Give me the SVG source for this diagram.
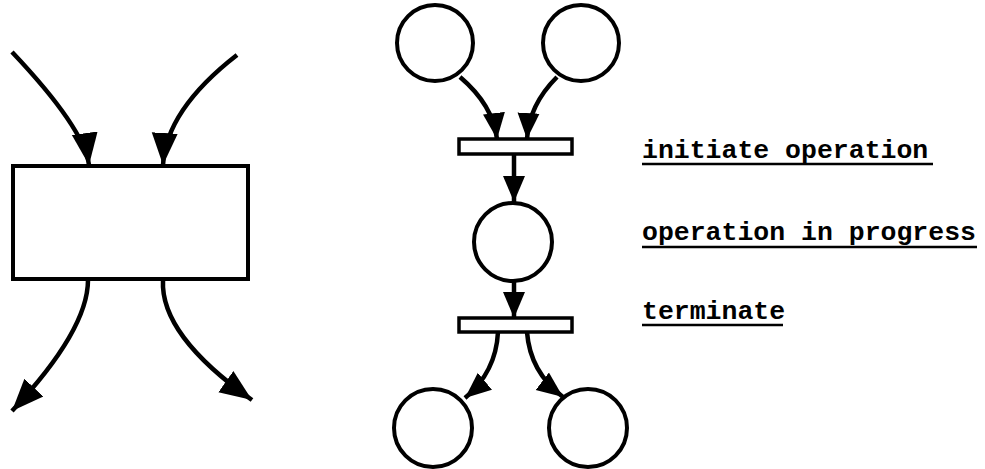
<svg xmlns="http://www.w3.org/2000/svg" width="985" height="469" viewBox="0 0 985 469">
<defs>
<style>
.shape{fill:#fff;stroke:#000;stroke-width:4}
.bar{fill:#fff;stroke:#000;stroke-width:3.5}
.edge{fill:none;stroke:#000;stroke-width:4.5}
.lbl{font-family:"Liberation Mono","Courier New",monospace;font-size:26.5px;font-weight:bold;fill:#000}
.ul{stroke:#000;stroke-width:2.5}
</style>
<marker id="ah" markerUnits="userSpaceOnUse" markerWidth="34" markerHeight="28" refX="32" refY="13" orient="auto" viewBox="0 0 34 26">
<path d="M0,0 L32,13 L0,26 Z" fill="#000"/>
</marker>
<marker id="ahs" markerUnits="userSpaceOnUse" markerWidth="28" markerHeight="24" refX="26" refY="11" orient="auto" viewBox="0 0 28 22">
<path d="M0,0 L26,11 L0,22 Z" fill="#000"/>
</marker>
</defs>
<rect width="985" height="469" fill="#fff"/>
<g id="box"><rect class="shape" x="13" y="166" width="235" height="113"/></g>
<g id="p1"><circle class="shape" cx="435" cy="43" r="38"/></g>
<g id="p2"><circle class="shape" cx="581" cy="43" r="38"/></g>
<g id="t1"><rect class="bar" x="459" y="139" width="113" height="15"/></g>
<g id="p3"><circle class="shape" cx="513" cy="242" r="39"/></g>
<g id="t2"><rect class="bar" x="459" y="318" width="113" height="14"/></g>
<g id="p4"><circle class="shape" cx="433" cy="428" r="39"/></g>
<g id="p5"><circle class="shape" cx="588" cy="428" r="39"/></g>
<g id="connectors">
<path class="edge" marker-end="url(#ah)" d="M12,52 Q84,128 89,165"/>
<path class="edge" marker-end="url(#ah)" d="M237,55 Q166,110 163,165"/>
<path class="edge" marker-end="url(#ah)" d="M88,280 Q88,330 12,411"/>
<path class="edge" marker-end="url(#ah)" d="M163,280 Q160,335 252,400"/>
<path class="edge" marker-end="url(#ahs)" d="M460,77 Q493,105 497,139"/>
<path class="edge" marker-end="url(#ahs)" d="M557,77 Q529,105 527,139"/>
<path class="edge" marker-end="url(#ahs)" d="M514,155 L514,202"/>
<path class="edge" marker-end="url(#ahs)" d="M514,282 L514,318"/>
<path class="edge" marker-end="url(#ahs)" d="M498,332 Q496,372 465,398"/>
<path class="edge" marker-end="url(#ahs)" d="M527,332 Q530,372 563,397"/>
</g>
<g id="labels">
<text class="lbl" x="642" y="158">initiate operation</text>
<line class="ul" x1="642" y1="164" x2="933" y2="164"/>
<text class="lbl" x="642" y="240">operation in progress</text>
<line class="ul" x1="642" y1="247" x2="977" y2="247"/>
<text class="lbl" x="642" y="319">terminate</text>
<line class="ul" x1="642" y1="325" x2="783" y2="325"/>
</g>
</svg>
